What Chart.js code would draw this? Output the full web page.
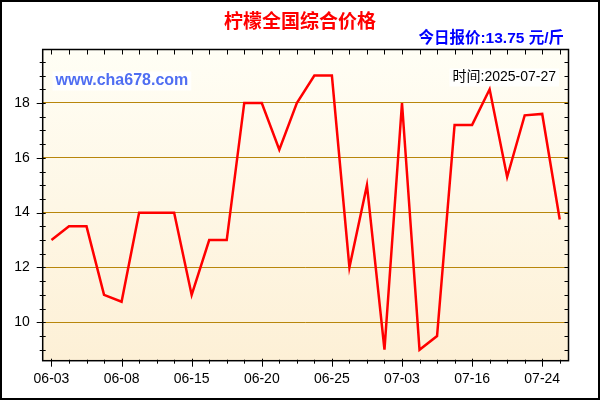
<!DOCTYPE html>
<html><head><meta charset="utf-8">
<script src="https://cdn.jsdelivr.net/npm/chart.js@4"></script>
<style>html,body{margin:0;padding:0;background:#fff;overflow:hidden;} canvas{display:block;}</style>
</head><body>
<canvas id="c" width="600" height="400"></canvas>
<script>
// categories (only every 4th date label is visible in the reference)
const dates = ['06-03','','','','06-08','','','','06-15','','','','06-20','','','','06-25','','','','07-03','','','','07-16','','','','07-24',''];
// prices (元/斤)
const prices = [13.0,13.5,13.5,11.0,10.75,14.0,14.0,14.0,11.0,13.0,13.0,18.0,18.0,16.3,18.0,19.0,19.0,12.0,15.0,9.0,18.0,9.0,9.5,17.2,17.2,18.5,15.3,17.55,17.6,13.75];
const yTickValues = [10,12,14,16,18];
const yMin = 8.6, yMax = 19.95;
const titleText = '柠檬全国综合价格';
const priceText = '今日报价:13.75 元/斤';
const siteText = 'www.cha678.com';
const timeText = '时间:2025-07-27';
const labelEvery = 4;

const FONT = '"Liberation Sans", Arial, "Noto Sans CJK SC", sans-serif';

const deco = {
  id: 'deco',
  beforeDraw(chart) {
    const ctx = chart.ctx, a = chart.chartArea;
    ctx.save();
    ctx.fillStyle = '#fff';
    ctx.fillRect(0, 0, chart.width, chart.height);
    const g = ctx.createLinearGradient(0, a.top, 0, a.bottom);
    g.addColorStop(0, '#FFFEF5');
    g.addColorStop(1, '#FDF0D6');
    ctx.fillStyle = g;
    ctx.fillRect(a.left, a.top, a.right - a.left, a.bottom - a.top);
    ctx.restore();
  },
  beforeDatasetsDraw(chart) {
    const ctx = chart.ctx;
    ctx.save();
    ctx.font = 'bold 16px ' + FONT;
    ctx.textBaseline = 'middle';
    ctx.textAlign = 'left';
    let w = ctx.measureText(siteText).width;
    ctx.fillStyle = 'rgba(255,255,255,0.85)';
    ctx.fillRect(52.5, 71.5, w + 6, 19);
    ctx.fillStyle = '#4F6EF2';
    ctx.fillText(siteText, 55.5, 81);
    ctx.font = '14px ' + FONT;
    ctx.textAlign = 'right';
    w = ctx.measureText(timeText).width;
    ctx.fillStyle = 'rgba(255,255,255,0.85)';
    ctx.fillRect(556 - w - 3, 68.5, w + 6, 18);
    ctx.fillStyle = '#000';
    ctx.fillText(timeText, 556, 77.5);
    ctx.restore();
  },
  afterDraw(chart) {
    const ctx = chart.ctx, a = chart.chartArea;
    const xs = chart.scales.x, ys = chart.scales.y;
    ctx.save();
    ctx.strokeStyle = '#000';
    ctx.lineWidth = 1.5;
    ctx.strokeRect(a.left, a.top, a.right - a.left, a.bottom - a.top);
    ctx.lineWidth = 1;
    ctx.beginPath();
    for (let v = Math.ceil(yMin * 2) / 2; v <= yMax + 1e-9; v += 0.5) {
      const y = Math.round(ys.getPixelForValue(v)) + 0.5;
      if (yTickValues.includes(v)) {
        ctx.moveTo(a.left - 6, y); ctx.lineTo(a.left + 3, y);
      } else {
        ctx.moveTo(a.left - 3, y); ctx.lineTo(a.left + 3, y);
      }
      ctx.moveTo(a.right - 4, y); ctx.lineTo(a.right, y);
    }
    for (let i = 0; i < dates.length; i++) {
      const x = Math.round(xs.getPixelForValue(i)) + 0.5;
      ctx.moveTo(x, a.top); ctx.lineTo(x, a.top + 5);
      if (i % labelEvery === 0) {
        ctx.moveTo(x, a.bottom - 2); ctx.lineTo(x, a.bottom + 6);
      } else {
        ctx.moveTo(x, a.bottom - 1); ctx.lineTo(x, a.bottom + 3);
      }
    }
    ctx.stroke();
    ctx.textBaseline = 'middle';
    ctx.textAlign = 'center';
    ctx.fillStyle = '#FF0000';
    ctx.font = 'bold 19px ' + FONT;
    ctx.fillText(titleText, 300, 23);
    ctx.textAlign = 'right';
    ctx.fillStyle = '#0000FF';
    ctx.font = 'bold 15.5px ' + FONT;
    ctx.fillText(priceText, 564, 39);
    ctx.lineWidth = 2;
    ctx.strokeStyle = '#000';
    ctx.strokeRect(1, 1, chart.width - 2, chart.height - 2);
    ctx.restore();
  }
};

new Chart(document.getElementById('c'), {
  type: 'line',
  data: {
    labels: dates,
    datasets: [{
      data: prices,
      borderColor: '#FF0000',
      borderWidth: 2.5,
      pointRadius: 0,
      tension: 0,
      fill: false
    }]
  },
  options: {
    responsive: false,
    animation: false,
    devicePixelRatio: 1,
    layout: { padding: { top: 49.5, right: 31.5, left: 0, bottom: 0 } },
    plugins: { legend: { display: false }, tooltip: { enabled: false } },
    scales: {
      x: {
        offset: true,
        grid: { display: false, drawTicks: false },
        border: { display: false },
        ticks: {
          autoSkip: false, maxRotation: 0, minRotation: 0, padding: 10,
          color: '#000', font: { family: FONT, size: 14 },
          callback: (v, i) => dates[i]
        },
        afterFit: s => { s.height = 39.3; }
      },
      y: {
        min: yMin, max: yMax,
        afterBuildTicks: s => { s.ticks = yTickValues.map(v => ({ value: v })); },
        grid: { color: '#B8860B', lineWidth: 1, drawTicks: false },
        border: { display: false },
        ticks: { padding: 13, color: '#000', font: { family: FONT, size: 14 } },
        afterFit: s => { s.width = 42.7; }
      }
    }
  },
  plugins: [deco]
});
</script>
</body></html>
